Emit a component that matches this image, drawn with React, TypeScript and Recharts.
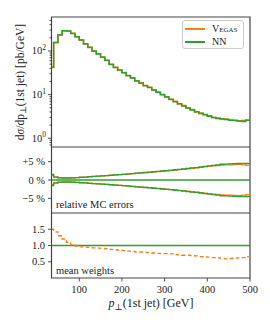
import React from 'react';
import { LineChart, Line, XAxis, YAxis, ReferenceArea, ReferenceLine } from 'recharts';

const binLow = [35, 40, 50, 60, 70, 80, 90, 100, 110, 120, 130, 140, 150, 160, 170, 180, 190, 200, 210, 220, 230, 240, 250, 260, 270, 280, 290, 300, 310, 320, 330, 340, 350, 360, 370, 380, 390, 400, 410, 420, 430, 440, 450, 460, 470, 480, 490];
const xMax = 500;
const nnXs = [43, 156, 232, 290, 288, 252, 213, 178, 145, 120, 100, 85, 72, 61, 49, 42, 36.5, 31.5, 27.5, 24, 20.5, 18.2, 16.2, 14.5, 12.8, 11.3, 10, 8.8, 7.8, 6.9, 6.2, 5.5, 4.95, 4.45, 4.05, 3.7, 3.45, 3.2, 3.0, 2.85, 2.75, 2.68, 2.6, 2.55, 2.5, 2.42, 2.6];
const vegasXs = [42, 157, 234, 292, 286, 253, 211, 179, 146, 121, 99, 86, 72.5, 60.5, 49.5, 42.5, 36, 32, 27.2, 24.3, 20.8, 18.6, 16.0, 14.7, 12.6, 11.5, 9.9, 8.9, 7.7, 7.0, 6.1, 5.6, 4.9, 4.55, 4.0, 3.78, 3.5, 3.28, 3.0, 2.9, 2.78, 2.75, 2.62, 2.6, 2.52, 2.55, 2.62];
const nnErr = [1.5, 0.8, 0.6, 0.55, 0.55, 0.6, 0.65, 0.75, 0.8, 0.9, 1.0, 1.05, 1.15, 1.2, 1.3, 1.4, 1.45, 1.55, 1.65, 1.75, 1.85, 1.95, 2.05, 2.15, 2.25, 2.35, 2.45, 2.55, 2.65, 2.8, 2.9, 3.0, 3.15, 3.3, 3.4, 3.55, 3.7, 3.85, 4.0, 4.15, 4.3, 4.35, 4.4, 4.45, 4.5, 4.55, 4.5];
const vegasErr = [1.3, 0.85, 0.65, 0.6, 0.6, 0.62, 0.66, 0.74, 0.8, 0.88, 0.98, 1.05, 1.12, 1.2, 1.28, 1.36, 1.44, 1.52, 1.62, 1.72, 1.82, 1.92, 2.0, 2.1, 2.2, 2.3, 2.4, 2.5, 2.6, 2.72, 2.82, 2.92, 3.05, 3.2, 3.3, 3.45, 3.6, 3.72, 3.85, 3.95, 4.05, 4.1, 4.15, 4.2, 4.25, 4.1, 4.0];
const vegasWeight = [1.5, 1.42, 1.3, 1.2, 1.1, 1.02, 0.98, 0.96, 0.95, 0.94, 0.93, 0.92, 0.91, 0.9, 0.88, 0.87, 0.86, 0.84, 0.83, 0.82, 0.8, 0.8, 0.79, 0.78, 0.77, 0.76, 0.75, 0.75, 0.74, 0.72, 0.71, 0.7, 0.7, 0.69, 0.68, 0.66, 0.65, 0.64, 0.63, 0.62, 0.6, 0.59, 0.6, 0.61, 0.62, 0.63, 0.66];
const nnWeight = 1.0;

const logMajor = [1, 10, 100];
const logTicks = [0.7, 0.8, 0.9, 1, 2, 3, 4, 5, 6, 7, 8, 9, 10, 20, 30, 40, 50, 60, 70, 80, 90, 100, 200, 300, 400, 500];
const errTicks = [-5, 0, 5];
const errLabels: Record<string, string> = { '-5': '\u22125 %', '0': '0 %', '5': '+5 %' };
const wTicks = [0.5, 1, 1.5];
const wLabels: Record<string, string> = { '0.5': '0.5', '1': '1.0', '1.5': '1.5' };
const xTicks = [100, 200, 300, 400, 500];

const ORANGE = '#ff7f0e';
const GREEN = '#2ca02c';
const FONT = "'Liberation Serif', 'DejaVu Serif', serif";
const INK = '#222';
const FRAME = '#444';

const rows = binLow.map((x, i) => ({
  x,
  nn: nnXs[i],
  vegas: vegasXs[i],
  nnUp: nnErr[i],
  nnDn: -nnErr[i],
  vUp: vegasErr[i],
  vDn: -vegasErr[i],
  vw: vegasWeight[i],
}));
rows.push({ ...rows[rows.length - 1], x: xMax });

const LogTick = (props: any) => {
  const { x, y, payload } = props;
  const v = payload.value;
  const major = logMajor.includes(v);
  const len = major ? 3.5 : 2;
  return (
    <g>
      <line x1={x - len} x2={x} y1={y} y2={y} stroke={INK} strokeWidth={0.8} />
      {major && (
        <text x={x - 5.5} y={y + 3.5} textAnchor="end" fontSize={10.5} fontFamily={FONT} fill={INK}>
          10<tspan dy={-4.5} fontSize={7.5}>{Math.round(Math.log10(v))}</tspan>
        </text>
      )}
    </g>
  );
};

const makeYTick = (labels: Record<string, string>) => (props: any) => {
  const { x, y, payload } = props;
  return (
    <g>
      <line x1={x - 3.5} x2={x} y1={y} y2={y} stroke={INK} strokeWidth={0.8} />
      <text x={x - 6.5} y={y + 3.5} textAnchor="end" fontSize={10.5} fontFamily={FONT} fill={INK}>
        {labels[String(payload.value)]}
      </text>
    </g>
  );
};
const ErrTick = makeYTick(errLabels);
const WTick = makeYTick(wLabels);

const XTick = (props: any) => {
  const { x, y, payload } = props;
  return (
    <g>
      <line x1={x} x2={x} y1={y} y2={y + 3.5} stroke={INK} strokeWidth={0.8} />
      <text x={x} y={y + 15} textAnchor="middle" fontSize={10.5} fontFamily={FONT} fill={INK}>
        {payload.value}
      </text>
    </g>
  );
};

const subStyle: React.CSSProperties = { fontSize: '0.72em', verticalAlign: '-0.3em', lineHeight: 0 };

export default function App() {
  return (
    <div style={{ position: 'fixed', left: 0, top: 0, width: 270, height: 324, background: '#fff', overflow: 'hidden' }}>
      <div style={{ position: 'absolute', left: 0, top: 0 }}>
        <LineChart width={270} height={147} data={rows} margin={{ top: 17, right: 20, bottom: 0, left: 0 }}>
          <XAxis dataKey="x" type="number" domain={[35, 500]} allowDataOverflow hide height={0} />
          <YAxis type="number" scale="log" domain={[0.63, 600]} allowDataOverflow ticks={logTicks} interval={0} width={51.5} tickSize={0} tickMargin={0} axisLine={false} tickLine={false} tick={LogTick} />
          <Line dataKey="vegas" type="stepAfter" stroke={ORANGE} strokeWidth={1.5} dot={false} isAnimationActive={false} />
          <Line dataKey="nn" type="stepAfter" stroke={GREEN} strokeWidth={1.5} dot={false} isAnimationActive={false} />
          <ReferenceArea x1={35} x2={500} y1={0.63} y2={600} fill="none" fillOpacity={0} stroke={FRAME} strokeWidth={1.2} />
        </LineChart>
      </div>
      <div style={{ position: 'absolute', left: 0, top: 147 }}>
        <LineChart width={270} height={66} data={rows} margin={{ top: 0, right: 20, bottom: 0, left: 0 }}>
          <XAxis dataKey="x" type="number" domain={[35, 500]} allowDataOverflow hide height={0} />
          <YAxis type="number" domain={[-9, 9]} allowDataOverflow ticks={errTicks} interval={0} width={51.5} tickSize={0} tickMargin={0} axisLine={false} tickLine={false} tick={ErrTick} />
          <ReferenceLine y={0} stroke={GREEN} strokeWidth={1.4} />
          <Line dataKey="vUp" type="stepAfter" stroke={ORANGE} strokeWidth={1.3} dot={false} isAnimationActive={false} />
          <Line dataKey="vDn" type="stepAfter" stroke={ORANGE} strokeWidth={1.3} dot={false} isAnimationActive={false} />
          <Line dataKey="nnUp" type="stepAfter" stroke={GREEN} strokeWidth={1.3} dot={false} isAnimationActive={false} />
          <Line dataKey="nnDn" type="stepAfter" stroke={GREEN} strokeWidth={1.3} dot={false} isAnimationActive={false} />
          <ReferenceArea x1={35} x2={500} y1={-9} y2={9} fill="none" fillOpacity={0} stroke={FRAME} strokeWidth={1.2} />
        </LineChart>
      </div>
      <div style={{ position: 'absolute', left: 0, top: 213 }}>
        <LineChart width={270} height={85} data={rows} margin={{ top: 0, right: 20, bottom: 0, left: 0 }}>
          <XAxis dataKey="x" type="number" domain={[35, 500]} allowDataOverflow ticks={xTicks} interval={0} height={20} tickSize={0} tickMargin={0} axisLine={false} tickLine={false} tick={XTick} />
          <YAxis type="number" domain={[0, 2]} allowDataOverflow ticks={wTicks} interval={0} width={51.5} tickSize={0} tickMargin={0} axisLine={false} tickLine={false} tick={WTick} />
          <ReferenceLine y={nnWeight} stroke={GREEN} strokeWidth={1.6} />
          <Line dataKey="vw" type="stepAfter" stroke={ORANGE} strokeWidth={1.3} strokeDasharray="4 2.5" dot={false} isAnimationActive={false} />
          <ReferenceArea x1={35} x2={500} y1={0} y2={2} fill="none" fillOpacity={0} stroke={FRAME} strokeWidth={1.2} />
        </LineChart>
      </div>

      <div style={{ position: 'absolute', left: 56, top: 199, fontSize: 10.5, fontFamily: FONT, color: INK, whiteSpace: 'nowrap', lineHeight: '12px' }}>relative MC errors</div>
      <div style={{ position: 'absolute', left: 56, top: 265, fontSize: 10.5, fontFamily: FONT, color: INK, whiteSpace: 'nowrap', lineHeight: '12px' }}>mean weights</div>

      <div style={{ position: 'absolute', left: 182, top: 20, width: 62, height: 29, border: '1px solid #ccc', borderRadius: 3, background: 'rgba(255,255,255,0.85)', boxSizing: 'border-box' }} />
      <div style={{ position: 'absolute', left: 185, top: 28, width: 20, height: 2, background: ORANGE }} />
      <div style={{ position: 'absolute', left: 185, top: 41, width: 20, height: 2, background: GREEN }} />
      <div style={{ position: 'absolute', left: 212, top: 23, fontSize: 10, fontFamily: FONT, color: INK, fontVariant: 'small-caps', lineHeight: '12px', whiteSpace: 'nowrap' }}>Vegas</div>
      <div style={{ position: 'absolute', left: 212, top: 36, fontSize: 10, fontFamily: FONT, color: INK, lineHeight: '12px', whiteSpace: 'nowrap' }}>NN</div>

      <div style={{ position: 'absolute', left: 151, top: 303, transform: 'translate(-50%, -50%)', fontSize: 12, fontFamily: FONT, color: INK, whiteSpace: 'nowrap', lineHeight: '14px' }}>
        <i>p</i><span style={subStyle}>⊥</span>(1st jet) [GeV]
      </div>
      <div style={{ position: 'absolute', left: 20, top: 82, transform: 'translate(-50%, -50%) rotate(-90deg)', fontSize: 11.5, fontFamily: FONT, color: INK, whiteSpace: 'nowrap', lineHeight: '14px' }}>
        d<i>σ</i>/dp<span style={subStyle}>⊥</span>(1st jet) [pb/GeV]
      </div>
    </div>
  );
}
